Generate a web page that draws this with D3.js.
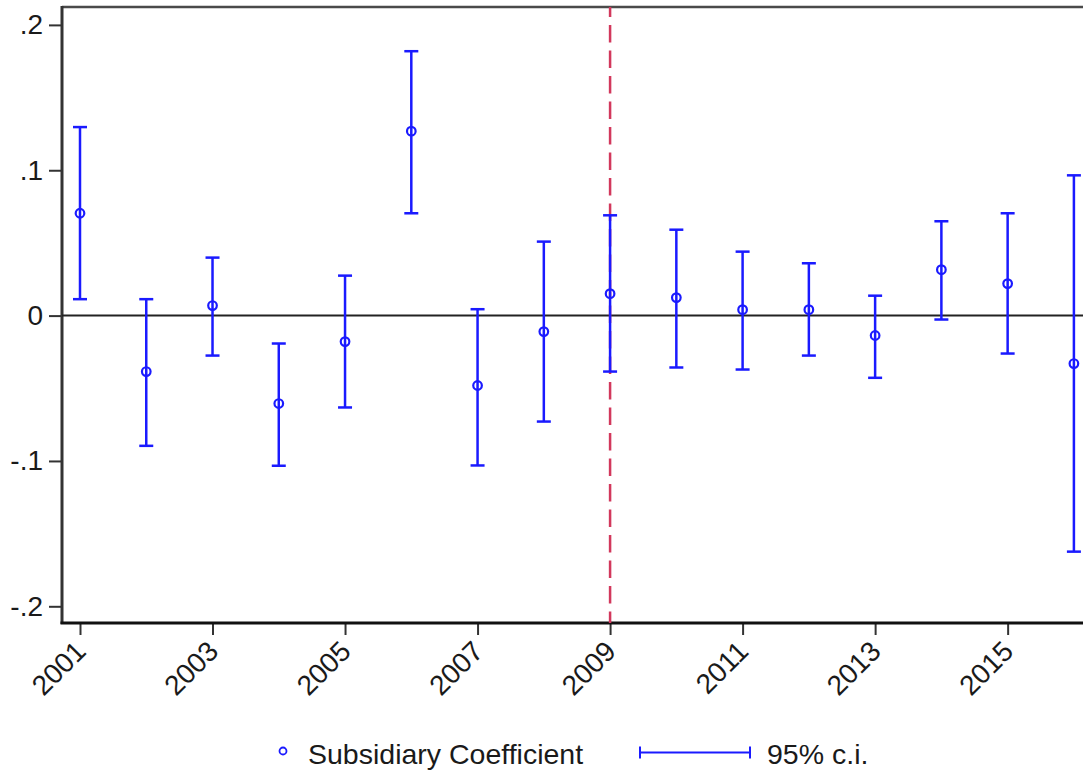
<!DOCTYPE html>
<html>
<head>
<meta charset="utf-8">
<script src="https://cdn.jsdelivr.net/npm/d3@7/dist/d3.min.js"></script>
<style>
  body { margin: 0; background: #fff; }
  svg { display: block; font-family: "Liberation Sans", Arial, sans-serif; }
</style>
</head>
<body>
<svg id="chart" width="1083" height="774"></svg>
<script>
// values
const years = [2001, 2002, 2003, 2004, 2005, 2006, 2007, 2008,
  2009, 2010, 2011, 2012, 2013, 2014, 2015, 2016];
const coef = [0.0704, -0.0385, 0.0069, -0.0605, -0.0179, 0.1269, -0.0481, -0.0110,
  0.0151, 0.0124, 0.0041, 0.0041, -0.0137, 0.0316, 0.0220, -0.0330];
const ciLow = [0.0113, -0.0896, -0.0275, -0.1033, -0.0632, 0.0704, -0.1031, -0.0729,
  -0.0385, -0.0357, -0.0371, -0.0275, -0.0428, -0.0027, -0.0261, -0.1624];
const ciHigh = [0.1297, 0.0113, 0.0399, -0.0192, 0.0275, 0.1819, 0.0044, 0.0509,
  0.0690, 0.0591, 0.0440, 0.0360, 0.0137, 0.0649, 0.0704, 0.0965];
const yTicks = [-0.2, -0.1, 0, 0.1, 0.2];
const xTicks = [2001, 2003, 2005, 2007, 2009, 2011, 2013, 2015];
const breakYear = 2009;
const legendLabels = ["Subsidiary Coefficient", "95% c.i."];

const plot = { left: 62, top: 7, bottom: 623, right: 1090 };
const blue = "#1a1aff";
const ink = "#1a1a1a";

const rows = years.map((yr, i) => ({ yr, b: coef[i], lo: ciLow[i], hi: ciHigh[i] }));

const svg = d3.select("#chart");

const x = d3.scaleLinear().domain([2001, 2016]).range([80, 1073.9]);
const y = d3.scaleLinear().domain([-0.2, 0.2]).range([606.3, 24.9]);

const fmtY = (d) => d === 0 ? "0" : (d < 0 ? "-" : "") + "." + Math.round(Math.abs(d) * 10);

// y axis ticks + labels
const yAxis = svg.append("g")
  .attr("transform", `translate(${plot.left},0)`)
  .call(d3.axisLeft(y).tickValues(yTicks).tickFormat(fmtY).tickSize(13).tickSizeOuter(0).tickPadding(6));
yAxis.select(".domain").remove();
yAxis.selectAll("line").attr("stroke", "#333").attr("stroke-width", 2);
yAxis.selectAll("text")
  .attr("fill", ink)
  .attr("font-size", 28)
  .attr("font-family", "Liberation Sans, Arial, sans-serif");

// x axis ticks + rotated labels
const xAxis = svg.append("g")
  .attr("transform", `translate(0,${plot.bottom})`)
  .call(d3.axisBottom(x).tickValues(xTicks).tickFormat(d3.format("d")).tickSize(12).tickSizeOuter(0));
xAxis.select(".domain").remove();
xAxis.selectAll("line").attr("stroke", "#333").attr("stroke-width", 2);
xAxis.selectAll("text")
  .attr("fill", ink)
  .attr("font-size", 28)
  .attr("font-family", "Liberation Sans, Arial, sans-serif")
  .attr("text-anchor", "end")
  .attr("dy", null)
  .attr("y", 0)
  .attr("transform", "translate(7,30) rotate(-45)");

// plot frame
svg.append("line")
  .attr("x1", plot.left).attr("x2", plot.right)
  .attr("y1", plot.top).attr("y2", plot.top)
  .attr("stroke", "#4a4a4a").attr("stroke-width", 2.5);
svg.append("line")
  .attr("x1", plot.left).attr("x2", plot.left)
  .attr("y1", plot.top - 1).attr("y2", plot.bottom + 1)
  .attr("stroke", "#333").attr("stroke-width", 3);
svg.append("line")
  .attr("x1", plot.left - 1.5).attr("x2", plot.right)
  .attr("y1", plot.bottom).attr("y2", plot.bottom)
  .attr("stroke", "#111").attr("stroke-width", 3);

// zero reference line
svg.append("line")
  .attr("x1", plot.left).attr("x2", plot.right)
  .attr("y1", y(0)).attr("y2", y(0))
  .attr("stroke", "#222").attr("stroke-width", 2);

// 2009 break line
svg.append("line")
  .attr("x1", x(breakYear)).attr("x2", x(breakYear))
  .attr("y1", plot.top).attr("y2", plot.bottom)
  .attr("stroke", "#d2385c").attr("stroke-width", 2.5)
  .attr("stroke-dasharray", "17.5,8").attr("stroke-dashoffset", 7.5);

// error bars
const bars = svg.append("g")
  .attr("stroke", blue).attr("stroke-width", 2.5).attr("fill", "none");
bars.selectAll("line.stem")
  .data(rows).join("line").attr("class", "stem")
  .attr("x1", (d) => x(d.yr)).attr("x2", (d) => x(d.yr))
  .attr("y1", (d) => y(d.lo)).attr("y2", (d) => y(d.hi));
bars.selectAll("line.capHi")
  .data(rows).join("line").attr("class", "capHi")
  .attr("x1", (d) => x(d.yr) - 7).attr("x2", (d) => x(d.yr) + 7)
  .attr("y1", (d) => y(d.hi)).attr("y2", (d) => y(d.hi));
bars.selectAll("line.capLo")
  .data(rows).join("line").attr("class", "capLo")
  .attr("x1", (d) => x(d.yr) - 7).attr("x2", (d) => x(d.yr) + 7)
  .attr("y1", (d) => y(d.lo)).attr("y2", (d) => y(d.lo));

// point estimates
svg.append("g").selectAll("circle")
  .data(rows).join("circle")
  .attr("cx", (d) => x(d.yr)).attr("cy", (d) => y(d.b))
  .attr("r", 4.3)
  .attr("fill", "none").attr("stroke", blue).attr("stroke-width", 2.2);

// legend
const legend = svg.append("g").attr("font-size", 28.5).attr("fill", ink);
legend.append("circle")
  .attr("cx", 283).attr("cy", 751).attr("r", 3.5)
  .attr("fill", "none").attr("stroke", blue).attr("stroke-width", 1.8);
legend.append("text").attr("x", 308).attr("y", 764).text(legendLabels[0]);
const lg = legend.append("g").attr("stroke", blue).attr("stroke-width", 2);
lg.append("line").attr("x1", 640).attr("x2", 750).attr("y1", 752.5).attr("y2", 752.5);
lg.append("line").attr("x1", 640).attr("x2", 640).attr("y1", 746.5).attr("y2", 758.5);
lg.append("line").attr("x1", 750).attr("x2", 750).attr("y1", 746.5).attr("y2", 758.5);
legend.append("text").attr("x", 767).attr("y", 764).text(legendLabels[1]);
</script>
</body>
</html>
